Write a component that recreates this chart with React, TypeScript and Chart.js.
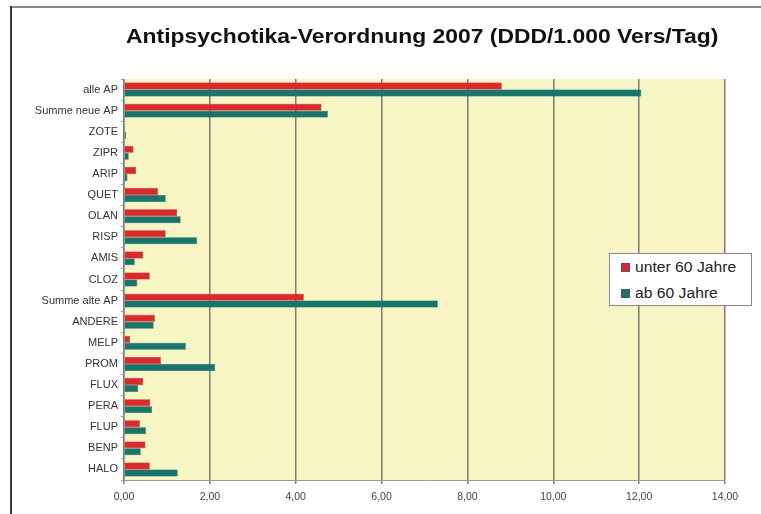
import React, { useEffect, useRef } from "react";
import { Chart, registerables } from "chart.js";

Chart.register(...registerables);

const categories = [
  "alle AP", "Summe neue AP", "ZOTE", "ZIPR", "ARIP", "QUET", "OLAN", "RISP", "AMIS", "CLOZ",
  "Summe alte AP", "ANDERE", "MELP", "PROM", "FLUX", "PERA", "FLUP", "BENP", "HALO",
];
const unter60 = [8.8, 4.6, 0.02, 0.22, 0.28, 0.79, 1.24, 0.97, 0.45, 0.6, 4.19, 0.72, 0.14, 0.86, 0.45, 0.61, 0.37, 0.5, 0.6];
const ab60 = [12.05, 4.75, 0.05, 0.11, 0.08, 0.97, 1.32, 1.7, 0.25, 0.31, 7.31, 0.69, 1.44, 2.12, 0.33, 0.65, 0.51, 0.39, 1.25];
const seriesNames = ["unter 60 Jahre", "ab 60 Jahre"];
const seriesColors = ["#e3262b", "#15756f"];
const titleText = "Antipsychotika-Verordnung 2007 (DDD/1.000 Vers/Tag)";

const FONT = "Arial, 'Liberation Sans', sans-serif";

const plotBg = {
  id: "plotBg",
  beforeDraw(chart: any) {
    const { ctx, chartArea } = chart;
    ctx.save();
    ctx.fillStyle = "#f6f5c3";
    ctx.fillRect(chartArea.left, chartArea.top, chartArea.right - chartArea.left, chartArea.bottom - chartArea.top);
    ctx.restore();
  },
};

export default function App() {
  const ref = useRef<HTMLCanvasElement>(null);
  useEffect(() => {
    if (!ref.current) return;
    const chart = new Chart(ref.current, {
      type: "bar",
      data: {
        labels: categories,
        datasets: [
          { label: seriesNames[0], data: unter60, backgroundColor: seriesColors[0], borderColor: "#9e1a1d", borderWidth: 0.5 },
          { label: seriesNames[1], data: ab60, backgroundColor: seriesColors[1], borderColor: "#0c4d49", borderWidth: 0.5 },
        ],
      },
      plugins: [plotBg],
      options: {
        indexAxis: "y",
        responsive: false,
        animation: false,
        devicePixelRatio: 1,
        datasets: { bar: { categoryPercentage: 0.66, barPercentage: 1 } },
        layout: { padding: { left: 0, right: 36, top: 79, bottom: 0 } },
        plugins: {
          legend: { display: false },
          tooltip: { enabled: false },
          title: { display: false },
        },
        scales: {
          x: {
            min: 0,
            max: 14,
            ticks: {
              stepSize: 2,
              color: "#444",
              padding: 7,
              font: { family: FONT, size: 10.5 },
              callback: (v: any) => Number(v).toFixed(2).replace(".", ","),
            },
            grid: { color: "#7d7d78", lineWidth: 1.5, tickLength: 4 },
            border: { color: "#999", width: 1 },
            afterFit: (s: any) => { s.height = 34; },
          },
          y: {
            ticks: {
              color: "#333",
              padding: 3,
              autoSkip: false,
              font: { family: FONT, size: 11 },
            },
            grid: { drawOnChartArea: false, tickLength: 3, color: "#999" },
            border: { color: "#999", width: 1 },
            afterFit: (s: any) => { s.width = 124; },
          },
        },
      },
    } as any);
    return () => chart.destroy();
  }, []);

  const legendRow = (i: number) => (
    <div style={{ display: "flex", alignItems: "center", height: 26 }}>
      <span style={{ width: 7, height: 7, background: seriesColors[i], border: "1px solid #555", marginRight: 5, display: "inline-block", flex: "none" }} />
      <span style={{ display: "inline-block", transform: "scaleX(1.12)", transformOrigin: "left center", whiteSpace: "nowrap" }}>{seriesNames[i]}</span>
    </div>
  );

  return (
    <div style={{ position: "fixed", left: 0, top: 0, width: 761, height: 514, background: "#fff", overflow: "hidden" }}>
      <div style={{ position: "absolute", left: 10, top: 6, right: 0, height: 2, background: "#8c8c8c" }} />
      <div style={{ position: "absolute", left: 10, top: 6, bottom: 0, width: 1.5, background: "#3a3a3a" }} />
      <canvas ref={ref} width={761} height={514} style={{ position: "absolute", left: 0, top: 0 }} />
      <div
        style={{
          position: "absolute",
          left: 126,
          top: 25,
          fontFamily: FONT,
          fontWeight: "bold",
          fontSize: 21,
          lineHeight: "21px",
          color: "#111",
          whiteSpace: "nowrap",
          transform: "scaleX(1.09)",
          transformOrigin: "left top",
        }}
      >
        {titleText}
      </div>
      <div
        style={{
          position: "absolute",
          left: 609,
          top: 253,
          width: 143,
          height: 53,
          background: "#fff",
          border: "1px solid #888",
          fontFamily: FONT,
          fontSize: 14,
          color: "#222",
          padding: "0 0 0 11px",
          boxSizing: "border-box",
        }}
      >
        {legendRow(0)}
        {legendRow(1)}
      </div>
    </div>
  );
}
